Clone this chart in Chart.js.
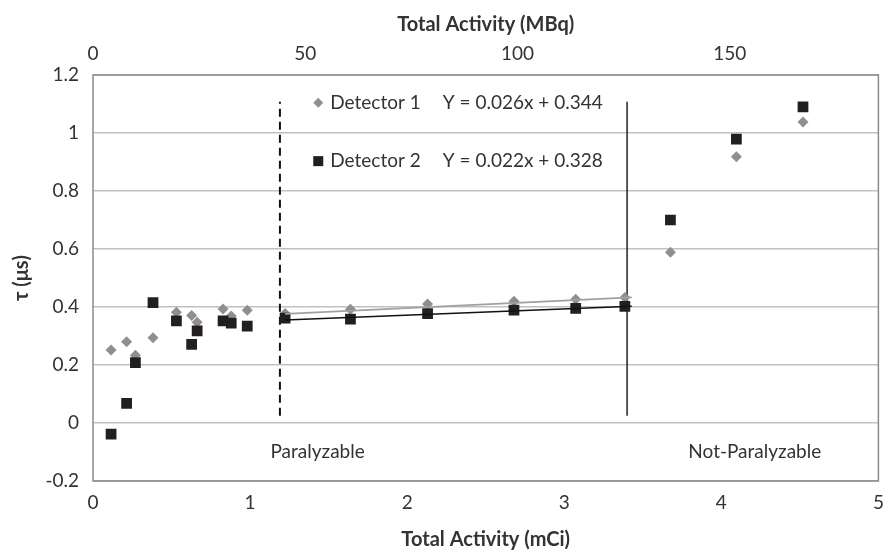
<!DOCTYPE html>
<html>
<head>
<meta charset="utf-8">
<script src="https://cdn.jsdelivr.net/npm/chart.js@4/dist/chart.umd.min.js"></script>
<style>
  html, body { margin: 0; padding: 0; background: #fff; }
  #wrap { width: 886px; height: 552px; }
</style>
</head>
<body>
<div id="wrap"><canvas id="deadTime" width="886" height="552"></canvas></div>
<script>
// total activity in mCi, shared by both detectors
var activity = [0.115, 0.214, 0.27, 0.382, 0.531, 0.628, 0.663, 0.828, 0.88, 0.982, 1.223, 1.639, 2.13, 2.68, 3.073, 3.386, 3.676, 4.096, 4.52];
// dead time tau (us)
var detector1 = [0.252, 0.28, 0.234, 0.294, 0.382, 0.371, 0.347, 0.393, 0.369, 0.389, 0.378, 0.392, 0.41, 0.42, 0.427, 0.433, 0.589, 0.918, 1.038];
var detector2 = [-0.038, 0.068, 0.208, 0.415, 0.352, 0.271, 0.318, 0.352, 0.344, 0.334, 0.362, 0.358, 0.377, 0.389, 0.395, 0.402, 0.70, 0.979, 1.09];

// linear fits over the paralyzable range
var fitX = [1.223, 3.43];
var fit1Y = [0.376, 0.433];
var fit2Y = [0.355, 0.403];
var fitLabels = ['Y = 0.026x + 0.344', 'Y = 0.022x + 0.328'];
var seriesNames = ['Detector 1', 'Detector 2'];

// region boundaries
var paralyzableX = [1.19, 1.19];
var notParalyzableX = [3.40, 3.40];
var boundaryY = [0.025, 1.108];
var regionNames = ['Paralyzable', 'Not-Paralyzable'];

var GREY = '#8f8f8f';
var BLACK = '#231f20';
var FONT = 'Lato, "Liberation Sans", sans-serif';

function pts(xs, ys) {
  return xs.map(function(x, i) { return {x: x, y: ys[i]}; });
}

Chart.defaults.font.family = FONT;
Chart.defaults.font.size = 19;
Chart.defaults.color = '#333';

// plot frame, in-plot legend and region names
var annotations = {
  id: 'annotations',
  afterDatasetsDraw: function(chart) {
    var ctx = chart.ctx, a = chart.chartArea;
    var xs = chart.scales.x, ys = chart.scales.y;
    ctx.save();
    ctx.strokeStyle = '#8a8a8a';
    ctx.lineWidth = 1.5;
    ctx.strokeRect(a.left, a.top, a.right - a.left, a.bottom - a.top);

    ctx.font = '19px ' + FONT;
    ctx.textBaseline = 'middle';

    var mx = xs.getPixelForValue(1.434);
    var rows = [ys.getPixelForValue(1.104), ys.getPixelForValue(0.903)];
    // diamond
    ctx.fillStyle = GREY;
    ctx.beginPath();
    ctx.moveTo(mx, rows[0] - 5); ctx.lineTo(mx + 5, rows[0]);
    ctx.lineTo(mx, rows[0] + 5); ctx.lineTo(mx - 5, rows[0]);
    ctx.closePath(); ctx.fill();
    // square
    ctx.fillStyle = BLACK;
    ctx.fillRect(mx - 5, rows[1] - 5, 10, 10);

    ctx.fillStyle = '#333';
    ctx.textAlign = 'left';
    for (var i = 0; i < 2; i++) {
      ctx.fillText(seriesNames[i], mx + 12, rows[i]);
      ctx.fillText(fitLabels[i], xs.getPixelForValue(2.227), rows[i]);
    }

    ctx.textAlign = 'center';
    var ry = ys.getPixelForValue(-0.1);
    ctx.fillText(regionNames[0], xs.getPixelForValue(1.43), ry);
    ctx.fillText(regionNames[1], xs.getPixelForValue(4.213), ry);
    ctx.restore();
  }
};

// keep the plot edge fixed no matter how wide the end tick labels are
function fixEdges(s) {
  s.paddingLeft = 0;
  s.paddingRight = 5;
}

new Chart(document.getElementById('deadTime'), {
  type: 'scatter',
  data: {
    datasets: [
      {
        label: seriesNames[1],
        data: pts(activity, detector2),
        pointStyle: 'rect',
        pointRadius: 7.6,
        backgroundColor: BLACK,
        borderWidth: 0,
        order: 1
      },
      {
        label: seriesNames[0],
        data: pts(activity, detector1),
        pointStyle: 'rectRot',
        pointRadius: 5.5,
        backgroundColor: GREY,
        borderWidth: 0,
        order: 2
      },
      {
        label: 'fit 1',
        data: pts(fitX, fit1Y),
        showLine: true,
        pointRadius: 0,
        borderColor: '#a0a0a0',
        borderWidth: 1.8,
        order: 0
      },
      {
        label: 'fit 2',
        data: pts(fitX, fit2Y),
        showLine: true,
        pointRadius: 0,
        borderColor: '#111',
        borderWidth: 1.5,
        order: 0
      },
      {
        label: 'paralyzable limit',
        data: pts(paralyzableX, boundaryY),
        showLine: true,
        pointRadius: 0,
        borderColor: '#111',
        borderWidth: 2,
        borderDash: [8, 5],
        order: 3
      },
      {
        label: 'not-paralyzable limit',
        data: pts(notParalyzableX, boundaryY),
        showLine: true,
        pointRadius: 0,
        borderColor: '#222',
        borderWidth: 1.5,
        order: 3
      }
    ]
  },
  options: {
    responsive: false,
    animation: false,
    layout: { padding: 0 },
    plugins: {
      legend: { display: false },
      tooltip: { enabled: false }
    },
    scales: {
      x: {
        type: 'linear',
        position: 'bottom',
        min: 0,
        max: 5,
        ticks: { stepSize: 1, padding: 10 },
        grid: { display: false, drawTicks: false },
        border: { display: false },
        title: { display: true, text: 'Total Activity (mCi)', font: { weight: 'bold', size: 20 }, padding: { top: 3, bottom: 0 } },
        afterFit: function(s) { s.height = 71; fixEdges(s); }
      },
      x2: {
        type: 'linear',
        position: 'top',
        min: 0,
        max: 185,
        ticks: { stepSize: 50, padding: 10, includeBounds: false },
        grid: { display: false, drawTicks: false },
        border: { display: false },
        title: { display: true, text: 'Total Activity (MBq)', font: { weight: 'bold', size: 20 }, padding: { top: 13, bottom: 0 } },
        afterFit: function(s) { s.height = 75; fixEdges(s); }
      },
      y: {
        min: -0.2,
        max: 1.2,
        ticks: {
          stepSize: 0.2,
          padding: 14,
          callback: function(v) { return String(Math.round(v * 10) / 10); }
        },
        grid: { color: '#c0c0c0', lineWidth: 1.4, drawTicks: false },
        border: { display: false },
        title: { display: true, text: 'τ (μs)', font: { weight: 'bold', size: 20 }, padding: { top: 10, bottom: 0 } },
        afterFit: function(s) { s.width = 93; s.paddingTop = 0; s.paddingBottom = 0; }
      }
    }
  },
  plugins: [annotations]
});
</script>
</body>
</html>
